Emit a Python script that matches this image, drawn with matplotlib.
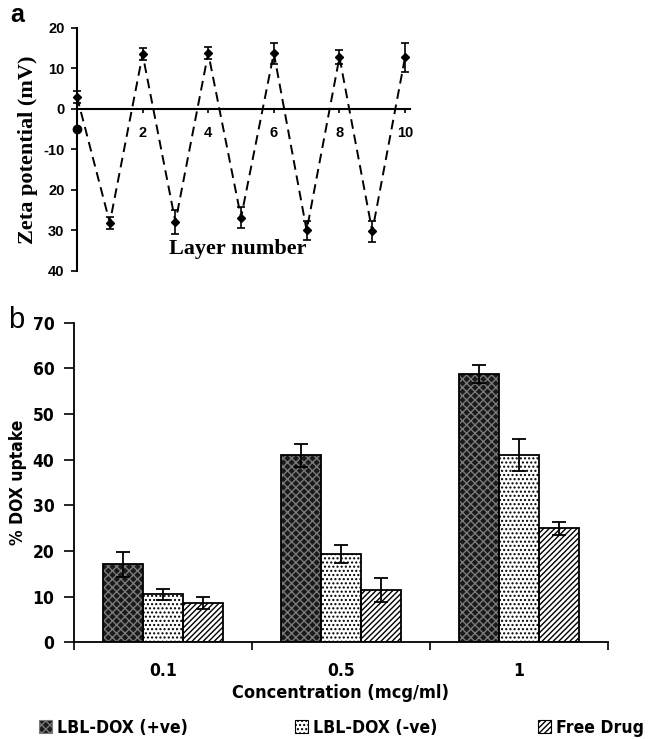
import numpy as np
import matplotlib
matplotlib.use("Agg")
import matplotlib.pyplot as plt
from matplotlib.ticker import FixedLocator, FixedFormatter

# panel a: zeta potential per layer
layers = [0, 1, 2, 3, 4, 5, 6, 7, 8, 9, 10]
zeta = [3.0, -28.1, 13.5, -27.9, 13.8, -26.8, 13.8, -30.0, 12.8, -30.2, 12.8]
zeta_err = [1.5, 1.5, 1.5, 3.0, 1.4, 2.5, 2.6, 2.4, 1.8, 2.6, 3.6]
core_layer = 0
core_zeta = -5.0
zeta_ticks = [20, 10, 0, -10, -20, -30, -40]
zeta_ticklabels = ["20", "10", "0", "-10", "20", "30", "40"]

# panel b: DOX uptake
concentrations = ["0.1", "0.5", "1"]
series_names = ["LBL-DOX (+ve)", "LBL-DOX (-ve)", "Free Drug"]
uptake_pos = [17.1, 41.0, 58.7]
uptake_neg = [10.5, 19.4, 41.0]
uptake_free = [8.6, 11.5, 25.0]
err_pos = [2.7, 2.5, 2.0]
err_neg = [1.2, 2.0, 3.5]
err_free = [1.3, 2.6, 1.4]

serif = ["Liberation Serif", "DejaVu Serif"]
sans = ["Liberation Sans", "DejaVu Sans"]
cond = {"family": "DejaVu Sans", "fontweight": "bold", "fontstretch": "condensed"}

fig = plt.figure(figsize=(6.51, 7.39), dpi=100)

# ---------- panel a ----------
ax1 = fig.add_axes([77 / 651, 1 - 271 / 739, 333 / 651, 243 / 739])
ax1.set_xlim(0, 10.15)
ax1.set_ylim(-40, 20)
for s in ["top", "right"]:
    ax1.spines[s].set_visible(False)
ax1.spines["bottom"].set_position(("data", 0))
ax1.spines["left"].set_linewidth(1.5)
ax1.spines["bottom"].set_linewidth(1.5)

ax1.plot(layers, zeta, ls=(0, (5, 3)), color="black", lw=1.4, marker="D",
         ms=4, mfc="black", clip_on=False, zorder=3)
ax1.errorbar(layers, zeta, yerr=zeta_err, fmt="none", ecolor="black",
             elinewidth=1.2, capsize=3, capthick=1.2, clip_on=False, zorder=3)
ax1.plot([core_layer], [core_zeta], "o", color="black", ms=6, clip_on=False, zorder=4)

ax1.yaxis.set_major_locator(FixedLocator(zeta_ticks))
ax1.yaxis.set_major_formatter(FixedFormatter(zeta_ticklabels))
ax1.set_xticks([2, 4, 6, 8, 10])
ax1.tick_params(axis="y", direction="out", length=4, width=1.2, pad=5)
ax1.tick_params(axis="x", direction="out", length=3, width=1.2, pad=9)
for lab in ax1.get_yticklabels() + ax1.get_xticklabels():
    lab.set_fontweight("bold")
    lab.set_fontsize(10.5)
    lab.set_family(sans)

ax1.set_ylabel("Zeta potential (mV)", fontsize=16, fontweight="bold",
               family=serif, labelpad=4)
ax1.text(4.9, -34.5, "Layer number", fontsize=16, fontweight="bold",
         family=serif, ha="center", va="center")
fig.text(10 / 651, 1 - 15 / 739, "a", fontsize=18, fontweight="bold",
         family=sans, va="center")

# ---------- panel b ----------
ax2 = fig.add_axes([74 / 651, 1 - 642.3 / 739, 534 / 651, 319.6 / 739])
x = np.arange(len(concentrations))
w = 0.225
values = [uptake_pos, uptake_neg, uptake_free]
errors = [err_pos, err_neg, err_free]
faces = ["#1a1a1a", "white", "white"]
hatch_cols = ["#7a7a7a", "black", "black"]
hatches = ["xxxx", "....", "//////"]

for i in range(3):
    pos = x + (i - 1) * w
    ax2.bar(pos, values[i], width=w, color=faces[i], edgecolor=hatch_cols[i],
            hatch=hatches[i], linewidth=0, zorder=2)
    ax2.bar(pos, values[i], width=w, fill=False, edgecolor="black",
            linewidth=1.3, zorder=3)
    ax2.errorbar(pos, values[i], yerr=errors[i], fmt="none", ecolor="black",
                 elinewidth=1.3, capsize=5, capthick=1.3, zorder=4)

ax2.set_xlim(-0.5, 2.5)
ax2.set_ylim(0, 70)
for s in ["top", "right"]:
    ax2.spines[s].set_visible(False)
ax2.spines["left"].set_linewidth(1.3)
ax2.spines["bottom"].set_linewidth(1.3)
ax2.set_yticks(range(0, 71, 10))
ax2.set_xticks(x)
ax2.set_xticklabels(concentrations)
ax2.set_xticks([-0.5, 0.5, 1.5, 2.5], minor=True)
ax2.tick_params(axis="x", which="major", length=0, pad=14)
ax2.tick_params(axis="x", which="minor", direction="out", length=6, width=1.2)
ax2.tick_params(axis="y", direction="out", length=7, width=1.2, pad=7)
for lab in ax2.get_yticklabels() + ax2.get_xticklabels():
    lab.set_fontweight("bold")
    lab.set_fontsize(12.5)
    lab.set_family("DejaVu Sans")
    lab.set_fontstretch("condensed")

ax2.set_ylabel("% DOX uptake", fontsize=12.5, labelpad=4, **cond)
ax2.set_xlabel("Concentration (mcg/ml)", fontsize=13, labelpad=3, **cond)
fig.text(8 / 651, 1 - 320 / 739, "b", fontsize=21, family=sans, va="center")

# legend entries spread across the bottom
legend_x = [39 / 651, 295 / 651, 538 / 651]
for i in range(3):
    fig.legend([plt.Rectangle((0, 0), 1, 1, facecolor=faces[i], edgecolor=hatch_cols[i],
                              hatch=hatches[i], linewidth=0.8)],
               [series_names[i]], loc="center left",
               bbox_to_anchor=(legend_x[i], 1 - 728 / 739), frameon=False,
               handlelength=0.75, handleheight=0.75, handletextpad=0.3,
               borderpad=0, borderaxespad=0,
               prop={"family": "DejaVu Sans", "weight": "bold", "size": 12.6,
                     "stretch": "condensed"})

fig.savefig("out.png", dpi=100)
